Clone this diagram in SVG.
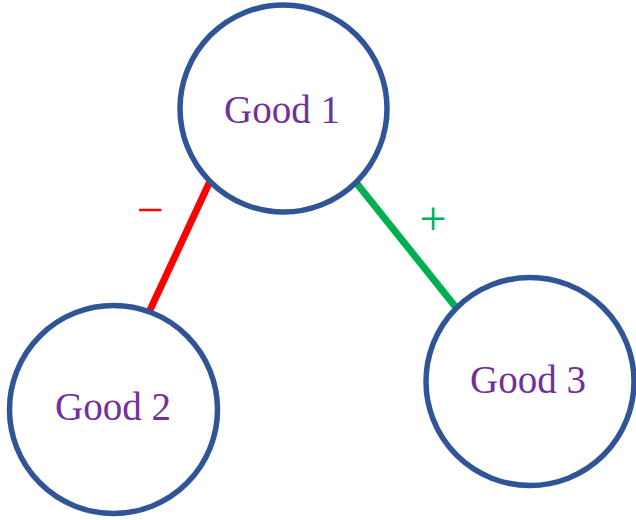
<svg xmlns="http://www.w3.org/2000/svg" width="636" height="520" viewBox="0 0 636 520">
<style>
.node{fill:#ffffff;stroke:#2f5597;stroke-width:5.5}
.lbl{font-family:"Liberation Serif","Times New Roman",serif;font-size:39px;fill:#7030a0;text-anchor:middle}
.sign{font-family:"Liberation Serif","Times New Roman",serif;font-size:48px;text-anchor:middle}
</style>
<rect width="636" height="520" fill="#ffffff"/>
<g id="connectors">
<line x1="211" y1="179" x2="150" y2="310" stroke="#ff0000" stroke-width="7"/>
<line x1="354" y1="180" x2="458" y2="310" stroke="#00b050" stroke-width="7"/>
<text class="sign" x="150" y="226" fill="#ff0000">−</text>
<text class="sign" x="433" y="235" fill="#00b050">+</text>
</g>
<g id="good1">
<circle class="node" cx="283.5" cy="108.5" r="103.5"/>
<text class="lbl" x="282" y="123">Good 1</text>
</g>
<g id="good2">
<circle class="node" cx="113.5" cy="409.5" r="104"/>
<text class="lbl" x="113" y="420">Good 2</text>
</g>
<g id="good3">
<circle class="node" cx="530" cy="381.5" r="104"/>
<text class="lbl" x="528" y="393">Good 3</text>
</g>
</svg>
